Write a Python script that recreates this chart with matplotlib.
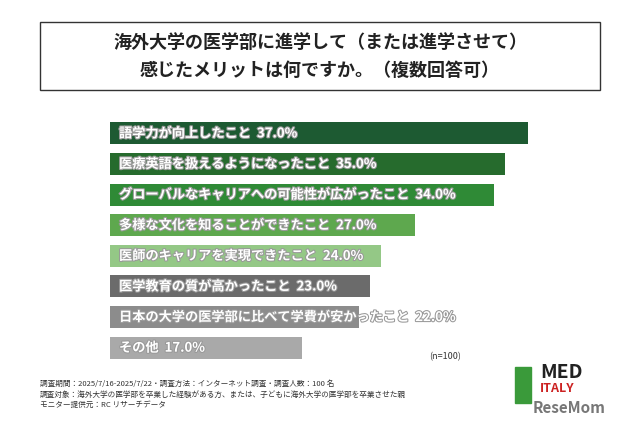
import matplotlib.pyplot as plt
import matplotlib
import matplotlib.patheffects as pe
from matplotlib.patches import Rectangle

matplotlib.rcParams['font.family'] = 'Noto Sans CJK JP'

labels = ['語学力が向上したこと', '医療英語を扱えるようになったこと',
          'グローバルなキャリアへの可能性が広がったこと', '多様な文化を知ることができたこと',
          '医師のキャリアを実現できたこと', '医学教育の質が高かったこと',
          '日本の大学の医学部に比べて学費が安かったこと', 'その他']
values = [37.0, 35.0, 34.0, 27.0, 24.0, 23.0, 22.0, 17.0]
colors = ['#1d5a32', '#266b2d', '#2f8a36', '#5ea84e', '#94c886',
          '#6b6b6b', '#8c8c8c', '#a9a9a9']

W, H = 640, 426
fig = plt.figure(figsize=(6.4, 4.26), dpi=100)
fig.patch.set_facecolor('white')

# タイトル枠
fig.patches.append(Rectangle((40 / W, 1 - 90 / H), 560 / W, 68 / H, transform=fig.transFigure,
                             fill=False, edgecolor='#333333', lw=1))
fig.text(0.5, 1 - 42 / H, '海外大学の医学部に進学して（または進学させて）', ha='center', va='center',
         fontsize=13, weight='bold', color='#222222')
fig.text(0.5, 1 - 70 / H, '感じたメリットは何ですか。（複数回答可）', ha='center', va='center',
         fontsize=13, weight='bold', color='#222222')

ax = fig.add_axes([110 / W, 1 - 363 / H, 418 / W * 50 / 37, 245 / H])
ax.set_xlim(0, 50)
ax.set_ylim(len(values) - 0.5, -0.5)
ax.axis('off')
y = range(len(values))
ax.barh(y, values, height=0.72, color=colors)
for i, (lab, v) in enumerate(zip(labels, values)):
    ax.text(0.8, i, f'{lab}  {v:.1f}%', va='center', ha='left', color='white',
            fontsize=9.5, weight='bold',
            path_effects=[pe.withStroke(linewidth=1.5, foreground='#999999')])

fig.text(445 / W, 1 - 357 / H, '(n=100)', fontsize=6.5, color='#333333', ha='center', va='center')

notes = ['調査期間：2025/7/16-2025/7/22・調査方法：インターネット調査・調査人数：100 名',
         '調査対象：海外大学の医学部を卒業した経験がある方、または、子どもに海外大学の医学部を卒業させた親',
         'モニター提供元：RC リサーチデータ']
for k, t in enumerate(notes):
    fig.text(40 / W, 1 - (384 + k * 10.5) / H, t, fontsize=5.5, color='#333333', va='center')

# ロゴ
fig.patches.append(Rectangle((515 / W, 1 - 403 / H), 16 / W, 36 / H, transform=fig.transFigure,
                             color='#3a9a3a'))
fig.text(540 / W, 1 - 372 / H, 'MED', fontsize=14, weight='bold', color='#222222', va='center')
fig.text(540 / W, 1 - 388 / H, 'ITALY', fontsize=9, weight='bold', color='#cc2222', va='center')
fig.text(533 / W, 1 - 408 / H, 'ReseMom', fontsize=11, weight='bold', color='#777777', va='center')

fig.savefig('out.png', dpi=100)
